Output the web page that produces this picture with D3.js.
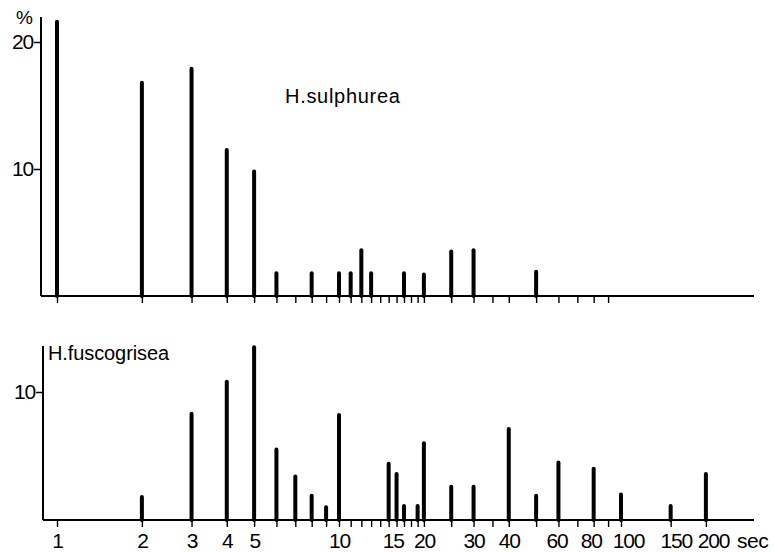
<!DOCTYPE html>
<html>
<head>
<meta charset="utf-8">
<script src="https://cdn.jsdelivr.net/npm/d3@7/dist/d3.min.js"></script>
<style>
  html, body { margin: 0; padding: 0; background: #fff; }
  svg { display: block; }
  text { font-family: "Liberation Sans", Arial, sans-serif; fill: #000; }
</style>
</head>
<body>
<svg id="chart" width="774" height="552"></svg>
<script>
// ---- data ----
const topTitle = "H.sulphurea";
const topTimes  = [1, 2, 3, 4, 5, 6, 8, 10, 11, 12, 13, 17, 20, 25, 30, 50];
const topValues = [21.6, 16.8, 17.9, 11.5, 9.8, 1.8, 1.8, 1.8, 1.8, 3.6, 1.8, 1.8, 1.7, 3.5, 3.6, 1.9];

const bottomTitle = "H.fuscogrisea";
const bottomTimes  = [2, 3, 4, 5, 6, 7, 8, 9, 10, 15, 16, 17, 19, 20, 25, 30, 40, 50, 60, 80, 100, 150, 200];
const bottomValues = [1.8, 8.3, 10.8, 13.5, 5.5, 3.4, 1.9, 1.0, 8.2, 4.4, 3.6, 1.1, 1.1, 6.0, 2.6, 2.6, 7.1, 1.9, 4.5, 4.0, 2.0, 1.1, 3.6];

const topXTicks    = [1,2,3,4,5,6,7,8,9,10,11,12,13,14,15,16,17,18,19,20,25,30,35,40,50,60,70,80,90];
const bottomXTicks = [1,2,3,4,5,6,7,8,9,10,11,12,13,14,15,16,17,18,19,20,25,30,35,40,50,60,70,80,90,100,150,200];
const bottomXLabels = [1,2,3,4,5,10,15,20,30,40,60,80,100,150,200];
const topYTicks = [10, 20];
const bottomYTicks = [10];
const yUnit = "%";
const xUnit = "sec";

// small hand-lettering shifts of some tick labels (style only)
const labelShift = {15: 4, 60: -2, 80: -3, 100: 7, 150: 5, 200: 7};

// ---- scales ----
const svg = d3.select("#chart");
const x = d3.scaleLog().domain([1, 100]).range([57, 621]);

const topY = d3.scaleLinear().domain([0, 20]).range([296, 42]);
const botY = d3.scaleLinear().domain([0, 10]).range([520, 392]);

function panel(g, y, times, values, xTicks, yTicks, axisLeft, yTopPx, title, titleX, titleY, titleSpacing, labels) {
  // bars
  g.selectAll("line.bar").data(times.map((t, i) => ({t, v: values[i]})))
    .enter().append("line").attr("class", "bar")
    .attr("x1", d => x(d.t)).attr("x2", d => x(d.t))
    .attr("y1", y(0)).attr("y2", d => y(d.v))
    .attr("stroke", "#000").attr("stroke-width", 4).attr("stroke-linecap", "round");

  // x axis
  const xa = d3.axisBottom(x).tickValues(xTicks).tickSize(7).tickSizeOuter(0)
    .tickFormat(d => labels && labels.includes(d) ? d : "");
  const xg = g.append("g").attr("transform", `translate(0,${y(0)})`).call(xa);
  xg.select(".domain").remove();
  xg.selectAll(".tick line").attr("stroke", "#000").attr("stroke-width", 1.4);
  xg.selectAll(".tick text").attr("font-size", 21).attr("dy", null).attr("y", 28)
    .attr("letter-spacing", -1.2)
    .attr("dx", d => labelShift[d] || 0)
    .attr("font-family", "Liberation Sans, Arial, sans-serif").attr("fill", "#000");
  g.append("line").attr("x1", axisLeft).attr("x2", 754)
    .attr("y1", y(0)).attr("y2", y(0)).attr("stroke", "#000").attr("stroke-width", 2);

  // y axis
  g.append("line").attr("x1", axisLeft).attr("x2", axisLeft)
    .attr("y1", yTopPx).attr("y2", y(0)).attr("stroke", "#000").attr("stroke-width", 2);
  const ya = d3.axisLeft(y).tickValues(yTicks).tickSize(7).tickSizeOuter(0);
  const yg = g.append("g").attr("transform", `translate(${axisLeft},0)`).call(ya);
  yg.select(".domain").remove();
  yg.selectAll(".tick line").attr("stroke", "#000").attr("stroke-width", 1.5);
  yg.selectAll(".tick text").attr("font-size", 21).attr("x", -8).attr("letter-spacing", -1.2)
    .attr("font-family", "Liberation Sans, Arial, sans-serif").attr("fill", "#000");

  g.append("text").attr("x", titleX).attr("y", titleY).attr("font-size", 20)
    .attr("letter-spacing", titleSpacing).text(title);
}

panel(svg.append("g"), topY, topTimes, topValues, topXTicks, topYTicks, 41, 17,
      topTitle, 285, 103, 0.7, null);
panel(svg.append("g"), botY, bottomTimes, bottomValues, bottomXTicks, bottomYTicks, 43, 346,
      bottomTitle, 48, 360, -0.1, bottomXLabels);

svg.append("text").attr("x", 16).attr("y", 24).attr("font-size", 19).attr("letter-spacing", -1).text(yUnit);
svg.append("text").attr("x", 737).attr("y", 548).attr("font-size", 21).attr("letter-spacing", -0.5).text(xUnit);
</script>
</body>
</html>
